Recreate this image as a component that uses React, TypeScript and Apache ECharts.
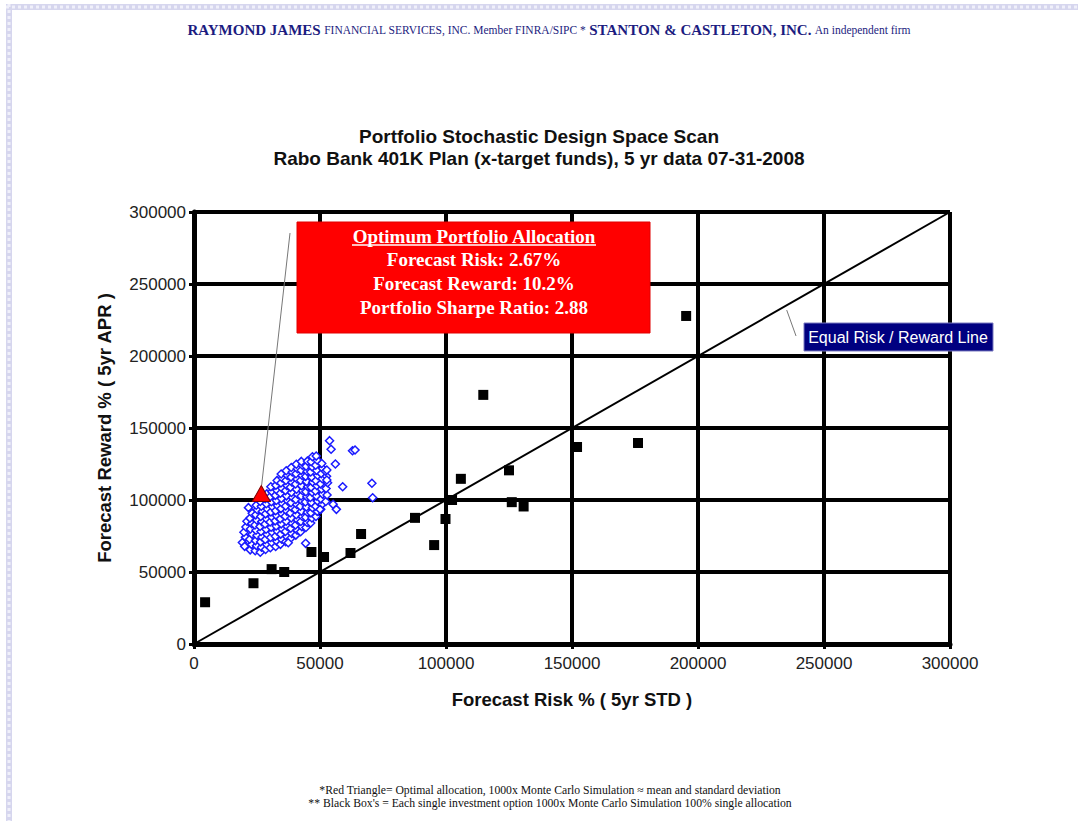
import React, { useEffect, useRef } from "react";
import * as echarts from "echarts";

// ---------- data ----------
const AXIS_MIN = 0;
const AXIS_MAX = 300000;
const AXIS_STEP = 50000;

const titleLines = [
  "Portfolio Stochastic Design Space Scan",
  "Rabo Bank 401K Plan (x-target funds), 5 yr data 07-31-2008",
];
const xAxisName = "Forecast Risk % ( 5yr STD )";
const yAxisName = "Forecast Reward % ( 5yr APR )";

// black boxes: single investment options [risk, reward]
const singleOptions: [number, number][] = [
  [4400, 29000], [23600, 42200], [30800, 52000], [35800, 50000],
  [46600, 63900], [51600, 60400], [62100, 63200], [66300, 76400],
  [87700, 87600], [95300, 68700], [99800, 86800], [102400, 100000],
  [105900, 114700], [114800, 173000], [125000, 120600], [126100, 98500],
  [130800, 95500], [152000, 136800], [176200, 139600], [195300, 227800],
];

// red triangle: optimal allocation
const optimum: [number, number][] = [[26700, 104500]];

// equal risk / reward line
const equalLine: [number, number][] = [[0, 0], [300000, 300000]];
// callout leaders
const optimumLeader: [number, number][] = [[38100, 285400], [26850, 110400]];
const equalLeader: [number, number][] = [[235200, 231900], [238900, 213900]];

// blue diamonds: Monte Carlo portfolio scan points [risk, reward]
const scanPoints: [number, number][] = [
  [19200, 70500], [20100, 67800], [20400, 74200], [19800, 77600], [20600, 81300], [21000, 85200], [21600, 94700],
  [22300, 65400], [22800, 69200], [22100, 72700], [23000, 76300], [22400, 79900], [22900, 83600], [22200, 87400], [23100, 90800],
  [24300, 64800], [24800, 68300], [24400, 71800], [25000, 75500], [24600, 79000], [24200, 82600], [24900, 86100], [24500, 89700], [25100, 93200], [24700, 96400],
  [26300, 63700], [26800, 67200], [26400, 70900], [27000, 74300], [26600, 78100], [26200, 81600], [26900, 85000], [26500, 88600], [27100, 92100], [26700, 95700], [26300, 99000],
  [28400, 65600], [28900, 69100], [28300, 72600], [29000, 76200], [28600, 79700], [28200, 83300], [28800, 86800], [28400, 90400], [29100, 93800], [28700, 97400], [28300, 100900], [28900, 104300],
  [30300, 66900], [30800, 70500], [30400, 74000], [31000, 77600], [30600, 81100], [30200, 84700], [30900, 88200], [30500, 91700], [31100, 95300], [30700, 98800], [30300, 102400], [30900, 105800], [30500, 109200],
  [32400, 67700], [32900, 71300], [32300, 74800], [33000, 78400], [32600, 81900], [32200, 85500], [32800, 89000], [32400, 92600], [33100, 96100], [32700, 99700], [32300, 103200], [32900, 106700], [32500, 110300], [33000, 113600],
  [34300, 69200], [34800, 72700], [34400, 76300], [35000, 79800], [34600, 83400], [34200, 86900], [34900, 90500], [34500, 94000], [35100, 97600], [34700, 101100], [34300, 104700], [34900, 108200], [34500, 111800], [35000, 115300], [34600, 118100],
  [36400, 71000], [36900, 74500], [36300, 78100], [37000, 81600], [36600, 85200], [36200, 88700], [36800, 92300], [36400, 95800], [37100, 99400], [36700, 102900], [36300, 106500], [36900, 110000], [36500, 113600], [37000, 117100], [36600, 120300],
  [38300, 73300], [38800, 76800], [38400, 80400], [39000, 83900], [38600, 87500], [38200, 91000], [38900, 94600], [38500, 98100], [39100, 101700], [38700, 105200], [38300, 108800], [38900, 112300], [38500, 115900], [39000, 119400], [38600, 122600],
  [40400, 75600], [40900, 79100], [40300, 82700], [41000, 86200], [40600, 89800], [40200, 93300], [40800, 96900], [40400, 100400], [41100, 104000], [40700, 107500], [40300, 111100], [40900, 114600], [40500, 118200], [41000, 121700], [40600, 124800],
  [42300, 78000], [42800, 81500], [42400, 85100], [43000, 88600], [42600, 92200], [42200, 95700], [42900, 99300], [42500, 102800], [43100, 106400], [42700, 109900], [42300, 113500], [42900, 117000], [42500, 120600], [43000, 124100], [42600, 126800],
  [44400, 80900], [44900, 84400], [44300, 88000], [45000, 91500], [44600, 95100], [44200, 98600], [44800, 102200], [44400, 105700], [45100, 109300], [44700, 112800], [44300, 116400], [44900, 119900], [44500, 123500], [45000, 127000],
  [46300, 84000], [46800, 87500], [46400, 91100], [47000, 94600], [46600, 98200], [46200, 101700], [46900, 105300], [46500, 108800], [47100, 112400], [46700, 115900], [46300, 119500], [46900, 123000], [46500, 126600], [47000, 130000],
  [48400, 88600], [48900, 92100], [48300, 95700], [49000, 99200], [48600, 102800], [48200, 106300], [48800, 109900], [48400, 113400], [49100, 117000], [48700, 120500], [48300, 124100], [48900, 127600], [48500, 130500],
  [50300, 93500], [50800, 97000], [50400, 100600], [51000, 104100], [50600, 107700], [50200, 111200], [50900, 114800], [50500, 118300], [51100, 121900], [50700, 125400],
  [52300, 99000], [52800, 103500], [52400, 108000], [53000, 112000], [52600, 116500], [52200, 120000],
  [53800, 141200], [54400, 135200], [62900, 134200], [63900, 134700], [70600, 111600], [70900, 101600],
  [59000, 109200], [56100, 125000], [55200, 97000], [56500, 93500], [37400, 70300], [44300, 69900],
  [50000, 93500], [52700, 120800], [52700, 113900],
];

const headerParts = [
  "RAYMOND JAMES",
  "FINANCIAL SERVICES, INC. Member FINRA/SIPC *",
  "STANTON & CASTLETON, INC.",
  "An independent firm",
];
const boxTitle = "Optimum Portfolio Allocation";
const boxLines = [
  "Forecast Risk: 2.67%",
  "Forecast Reward: 10.2%",
  "Portfolio Sharpe Ratio: 2.88",
];
const equalLabel = "Equal Risk / Reward Line";
const footnotes = [
  "*Red Triangle= Optimal allocation, 1000x Monte Carlo Simulation \u2248 mean and standard deviation",
  "** Black Box's = Each single investment option 1000x Monte Carlo Simulation 100% single allocation",
];

const SANS = "'Liberation Sans', Arial, sans-serif";
const SERIF = "'Liberation Serif', 'Times New Roman', serif";

export default function App() {
  const ref = useRef<HTMLDivElement>(null);

  useEffect(() => {
    if (!ref.current) return;
    const chart = echarts.init(ref.current, undefined, { renderer: "svg" });

    const axisCommon = {
      type: "value",
      min: AXIS_MIN,
      max: AXIS_MAX,
      interval: AXIS_STEP,
      nameLocation: "middle",
      nameTextStyle: { fontFamily: SANS, fontSize: 18.5, fontWeight: "bold", color: "#111" },
      axisLine: { show: true, onZero: false, lineStyle: { color: "#000", width: 5 } },
      axisTick: { show: true, length: 5, lineStyle: { color: "#000", width: 3 } },
      axisLabel: {
        fontFamily: SANS,
        fontSize: 17,
        color: "#222",
        formatter: (v: number) => String(v),
      },
      splitLine: { show: true, lineStyle: { color: "#000", width: 4 } },
    };

    const graphic: any[] = [
      // page border strips
      { type: "rect", shape: { x: 6, y: 4, width: 1072, height: 6 }, style: { fill: "#d6d6ee" }, z: 100 },
      { type: "line", shape: { x1: 6, y1: 7, x2: 1078, y2: 7 }, style: { stroke: "#f0f0fa", lineWidth: 3, lineDash: [3, 3] }, z: 101 },
      { type: "rect", shape: { x: 6, y: 4, width: 6, height: 817 }, style: { fill: "#d6d6ee" }, z: 100 },
      { type: "line", shape: { x1: 9, y1: 4, x2: 9, y2: 821 }, style: { stroke: "#f0f0fa", lineWidth: 3, lineDash: [3, 3] }, z: 101 },
      // header
      {
        type: "text",
        x: 549,
        y: 30,
        z: 100,
        style: {
          text:
            "{a|" + headerParts[0] + "} {b|" + headerParts[1] + "} {a|" + headerParts[2] + "} {b|" + headerParts[3] + "}",
          align: "center",
          verticalAlign: "middle",
          rich: {
            a: { fontFamily: SERIF, fontWeight: "bold", fontSize: 15, fill: "#1c1c80" },
            b: { fontFamily: SERIF, fontSize: 11.5, fill: "#1c1c80" },
          },
        },
      },
      // red callout box
      { type: "rect", shape: { x: 297, y: 222, width: 353, height: 111 }, style: { fill: "#ff0000", stroke: "#e00000", lineWidth: 1 }, z: 100 },
      {
        type: "text", x: 474, y: 236, z: 101,
        style: { text: boxTitle, align: "center", verticalAlign: "middle", fontFamily: SERIF, fontWeight: "bold", fontSize: 19, fill: "#fff" },
      },
      { type: "line", shape: { x1: 352, y1: 245, x2: 596, y2: 245 }, style: { stroke: "#fff", lineWidth: 1.5 }, z: 101 },
      ...boxLines.map((t, i) => ({
        type: "text", x: 474, y: 259 + i * 24, z: 101,
        style: { text: t, align: "center", verticalAlign: "middle", fontFamily: SERIF, fontWeight: "bold", fontSize: 19, fill: "#fff" },
      })),
      // equal risk label
      { type: "rect", shape: { x: 804, y: 323, width: 189, height: 28 }, style: { fill: "#000080", stroke: "#7a7ac0", lineWidth: 1 }, z: 100 },
      {
        type: "text", x: 898, y: 337, z: 101,
        style: { text: equalLabel, align: "center", verticalAlign: "middle", fontFamily: SANS, fontSize: 16, fill: "#fff" },
      },
      // footnotes
      ...footnotes.map((t, i) => ({
        type: "text", x: 550, y: 790 + i * 13, z: 100,
        style: { text: t, align: "center", verticalAlign: "middle", fontFamily: SERIF, fontSize: 11.7, fill: "#111" },
      })),
    ];

    chart.setOption({
      animation: false,
      backgroundColor: "#fff",
      title: {
        text: titleLines.join("\n"),
        left: "center",
        top: 120,
        textStyle: { fontFamily: SANS, fontWeight: "bold", fontSize: 19, lineHeight: 22, color: "#111" },
      },
      grid: { left: 194, top: 212, width: 756, height: 432, show: true, borderColor: "#777", borderWidth: 1 },
      xAxis: { ...axisCommon, name: xAxisName, nameGap: 46, axisLabel: { ...axisCommon.axisLabel, margin: 11 } },
      yAxis: { ...axisCommon, name: yAxisName, nameGap: 80, nameRotate: 90, axisLabel: { ...axisCommon.axisLabel, margin: 8 } },
      graphic,
      series: [
        {
          type: "line",
          data: equalLine,
          symbol: "none",
          lineStyle: { color: "#000", width: 2 },
          z: 3,
          silent: true,
        },
        {
          type: "line",
          data: optimumLeader,
          symbol: "none",
          lineStyle: { color: "#777", width: 1 },
          z: 3,
          silent: true,
        },
        {
          type: "line",
          data: equalLeader,
          symbol: "none",
          lineStyle: { color: "#777", width: 1 },
          z: 3,
          silent: true,
        },
        {
          type: "scatter",
          data: scanPoints,
          symbol: "diamond",
          symbolSize: 8,
          itemStyle: { color: "#fff", borderColor: "#1a1aff", borderWidth: 1.5, opacity: 1 },
          z: 4,
        },
        {
          type: "scatter",
          data: singleOptions,
          symbol: "rect",
          symbolSize: 10,
          itemStyle: { color: "#000", opacity: 1 },
          z: 5,
        },
        {
          type: "scatter",
          data: optimum,
          symbol: "triangle",
          symbolSize: [18, 16],
          itemStyle: { color: "#ff0000", borderColor: "#800000", borderWidth: 1, opacity: 1 },
          z: 6,
        },
      ],
    });

    return () => chart.dispose();
  }, []);

  return (
    <div
      ref={ref}
      style={{ position: "absolute", left: 0, top: 0, width: 1078, height: 821, background: "#fff" }}
    />
  );
}
